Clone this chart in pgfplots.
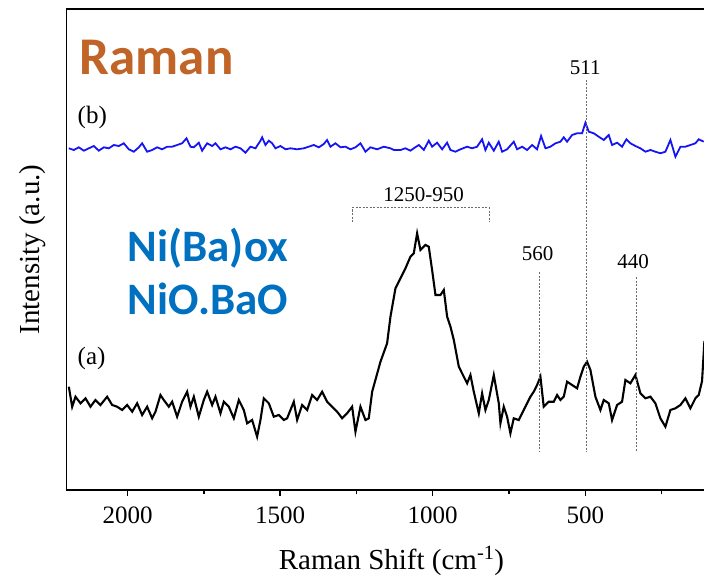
\documentclass[border=0pt]{standalone}
\usepackage{pgfplots}
\pgfplotsset{compat=1.18}
\usepackage{fontspec}
\setmainfont{Liberation Serif}
\newfontfamily\carlito{Carlito}
\definecolor{ramanorange}{HTML}{C06428}
\definecolor{niblue}{HTML}{0070C0}
\definecolor{specblue}{HTML}{1414F5}
\begin{document}
\begin{tikzpicture}
\begin{axis}[
  name=ax,
  scale only axis,
  width=650pt, height=481pt,
  xmin=70, xmax=2200, x dir=reverse,
  ymin=1, ymax=482,
  ytick=\empty,
  xtick={2000,1500,1000,500},
  minor xtick={1750,1250,750,250},
  xtick pos=bottom,
  tick align=outside,
  major tick length=6pt, minor tick length=4pt,
  every tick/.style={black, line width=1.4pt},
  axis line style={line width=1.6pt},
  /pgf/number format/assume math mode=true,
  /pgf/number format/1000 sep={},
  xticklabel style={font=\fontsize{25}{30}\selectfont, anchor=base, yshift=-27pt},
  xlabel={Raman Shift (cm\textsuperscript{-1})},
  ylabel={Intensity (a.u.)},
  every axis x label/.style={at={(axis description cs:0.5,0)}, anchor=base, yshift=-79pt, font=\fontsize{29}{34}\selectfont},
  every axis y label/.style={at={(axis description cs:-0.052,0.5)}, rotate=90, anchor=center, font=\fontsize{29}{34}\selectfont},
]
% spectrum (b)
\addplot[specblue, line width=1.8pt] coordinates {
(2192.4,342.7)(2176.0,341.0)(2159.6,343.7)(2143.2,340.3)(2126.8,342.7)(2110.4,345.0)(2094.1,340.3)(2077.7,343.7)(2061.3,342.7)(2044.9,346.0)
(2028.5,345.0)(2012.2,347.7)(1995.8,341.7)(1979.4,339.3)(1963.0,343.7)(1952.1,347.7)(1935.7,339.3)(1919.3,341.0)(1902.9,343.7)(1886.6,341.7)
(1870.2,344.3)(1853.8,344.3)(1837.4,346.0)(1821.0,347.7)(1806.8,352.7)(1793.7,344.3)(1782.8,343.7)(1766.4,348.3)(1755.5,340.3)(1739.1,347.7)
(1722.7,345.0)(1711.8,347.7)(1695.4,341.7)(1679.0,343.7)(1662.6,341.7)(1646.3,344.3)(1629.9,342.7)(1613.5,338.3)(1597.1,344.3)(1580.7,342.7)
(1564.4,350.3)(1558.9,353.7)(1548.0,346.0)(1537.0,350.3)(1526.1,347.7)(1515.2,342.7)(1498.8,345.0)(1482.4,341.7)(1466.1,342.7)(1444.2,341.7)
(1422.4,342.7)(1406.0,344.3)(1389.6,346.0)(1373.2,343.7)(1356.9,347.0)(1346.0,351.0)(1335.0,344.3)(1318.6,347.7)(1302.2,343.7)(1285.9,344.3)
(1269.5,341.7)(1253.1,343.7)(1236.7,347.7)(1220.3,339.3)(1204.0,343.7)(1182.1,341.7)(1160.2,344.3)(1138.4,342.7)(1127.5,341.0)(1105.7,341.0)
(1089.3,342.7)(1072.9,340.3)(1062.0,342.7)(1045.6,346.0)(1029.2,341.0)(1012.8,350.3)(1001.9,344.3)(985.5,348.3)(969.1,341.7)(952.8,348.3)
(941.8,341.0)(925.5,339.3)(909.1,341.7)(887.2,344.3)(870.8,342.7)(854.5,344.3)(838.1,351.7)(827.2,341.0)(816.2,348.3)(799.8,340.3)
(783.5,349.3)(772.5,339.3)(756.2,341.7)(734.3,349.3)(723.4,341.7)(707.0,344.3)(690.6,341.0)(674.2,346.0)(657.9,341.7)(644.8,355.0)
(630.4,342.7)(614.2,344.3)(597.8,347.7)(581.4,349.3)(570.5,353.7)(559.6,349.3)(543.2,356.0)(526.8,357.7)(510.4,357.7)(499.5,368.3)
(488.6,359.3)(472.2,357.7)(455.8,354.3)(439.4,351.0)(423.0,356.0)(412.1,346.0)(395.7,348.3)(379.4,344.3)(365.1,351.7)(352.1,347.7)
(335.7,345.0)(319.3,342.7)(302.9,339.3)(286.5,341.0)(270.2,339.3)(253.8,337.7)(237.4,339.3)(221.0,351.0)(204.6,334.3)(188.2,344.3)
(171.8,344.3)(155.5,346.0)(139.1,347.7)(128.2,351.7)(111.8,349.3)
};
% spectrum (a)
\addplot[black, line width=2.1pt] coordinates {
(2192.4,104.3)(2181.4,84.3)(2170.5,94.3)(2154.1,87.7)(2137.7,92.7)(2121.4,84.3)(2105.0,91.0)(2088.6,86.0)(2066.8,94.3)(2050.4,86.0)
(2034.0,84.3)(2017.6,81.0)(2001.2,86.0)(1984.8,79.3)(1968.5,87.7)(1952.1,76.0)(1935.7,84.3)(1919.3,72.7)(1908.4,79.3)(1892.0,96.0)
(1881.1,91.0)(1864.7,84.3)(1853.8,89.3)(1837.4,74.3)(1821.0,89.3)(1804.6,99.3)(1793.7,84.3)(1782.8,94.3)(1766.4,74.3)(1750.0,91.0)
(1739.1,99.3)(1722.7,86.0)(1711.8,94.3)(1695.4,77.7)(1684.5,89.3)(1668.1,84.3)(1651.7,72.7)(1635.3,91.0)(1619.0,81.0)(1608.0,67.7)
(1591.7,71.0)(1575.3,54.3)(1564.4,71.0)(1553.4,92.7)(1537.0,87.7)(1520.7,74.3)(1504.3,76.0)(1487.9,71.0)(1477.0,72.7)(1455.1,89.3)
(1444.2,71.0)(1427.8,86.0)(1411.4,81.0)(1395.0,96.0)(1378.7,91.0)(1362.3,99.3)(1345.9,89.3)(1329.5,84.3)(1313.1,79.3)(1296.7,72.7)
(1280.4,77.7)(1264.0,84.3)(1253.1,59.3)(1236.7,84.3)(1220.3,71.0)(1209.4,72.7)(1198.4,99.3)(1171.1,129.3)(1149.4,147.7)(1138.4,174.3)
(1122.0,202.7)(1105.6,212.7)(1089.2,222.7)(1072.9,234.3)(1061.9,237.7)(1051.0,257.7)(1040.1,241.0)(1023.7,246.0)(1012.8,244.3)(1001.9,221.0)
(990.9,196.0)(974.6,196.0)(963.6,201.0)(952.7,174.3)(941.7,164.3)(930.8,151.0)(914.4,124.3)(898.1,114.3)(887.2,107.7)(876.2,116.0)
(865.3,99.3)(848.9,77.7)(838.0,97.7)(827.1,81.0)(816.2,91.0)(799.8,116.0)(783.4,87.7)(778.0,67.7)(767.1,84.3)(756.2,74.3)
(745.3,57.7)(734.3,72.7)(718.0,71.0)(701.6,81.0)(690.7,87.7)(679.7,94.3)(668.8,99.3)(657.9,106.0)(647.0,114.3)(636.1,84.3)
(619.7,89.3)(603.3,89.3)(592.4,96.0)(581.4,91.0)(570.5,94.3)(559.6,109.3)(543.2,106.0)(526.8,102.7)(515.9,114.3)(505.0,124.3)
(494.1,129.3)(483.1,121.0)(466.8,94.3)(450.4,81.0)(439.5,91.0)(423.1,87.7)(412.2,71.0)(395.8,86.0)(379.4,89.3)(368.5,111.0)
(352.1,107.7)(335.7,116.0)(319.3,97.7)(302.9,92.7)(286.5,94.3)(270.2,87.7)(253.8,72.7)(237.4,64.3)(221.0,81.0)(204.6,82.7)
(188.3,86.0)(171.9,92.7)(155.5,82.7)(139.1,92.7)(128.2,96.0)(117.3,110.0)(109.6,150.0)
};
% annotations
\draw[gray!85!black, line width=1pt, dash pattern=on 2pt off 1.5pt] (axis cs:496,411) -- (axis cs:496,39);
\draw[gray!85!black, line width=1pt, dash pattern=on 2pt off 1.5pt] (axis cs:649,219) -- (axis cs:649,39);
\draw[gray!85!black, line width=1pt, dash pattern=on 2pt off 1.5pt] (axis cs:333,214) -- (axis cs:333,39);
\draw[gray!85!black, line width=1pt, dash pattern=on 2pt off 1.5pt] (axis cs:1264,269) -- (axis cs:1264,283) -- (axis cs:814,283) -- (axis cs:814,269);
\node[anchor=base, inner sep=0pt, font=\fontsize{21}{25}\selectfont] at (axis cs:1030,289) {1250-950};
\node[anchor=base, inner sep=0pt, font=\fontsize{21}{25}\selectfont] at (axis cs:656,231) {560};
\node[anchor=base, inner sep=0pt, font=\fontsize{21}{25}\selectfont] at (axis cs:343,223) {440};
\node[anchor=base, inner sep=0pt, font=\fontsize{21}{25}\selectfont] at (axis cs:500,416) {511};
\node[anchor=base west, inner sep=0pt, font=\fontsize{25}{30}\selectfont] at (axis cs:2164,367) {(b)};
\node[anchor=base west, inner sep=0pt, font=\fontsize{25}{30}\selectfont] at (axis cs:2164,127) {(a)};
\node[anchor=base west, inner sep=0pt, text=ramanorange, font=\carlito\bfseries\fontsize{53}{60}\selectfont] at (axis cs:2157,416) {Raman};
\node[anchor=base west, inner sep=0pt, text=niblue, font=\carlito\bfseries\fontsize{45}{54}\selectfont] at (axis cs:2000,230) {Ni(Ba)ox};
\node[anchor=base west, inner sep=0pt, text=niblue, font=\carlito\bfseries\fontsize{45}{54}\selectfont] at (axis cs:2000,177) {NiO.BaO};
\end{axis}
\pgfresetboundingbox
\path[use as bounding box] ([xshift=-66.5pt,yshift=-89pt]ax.south west) rectangle ([xshift=637.5pt,yshift=9pt]ax.north west);
\end{tikzpicture}
\end{document}
